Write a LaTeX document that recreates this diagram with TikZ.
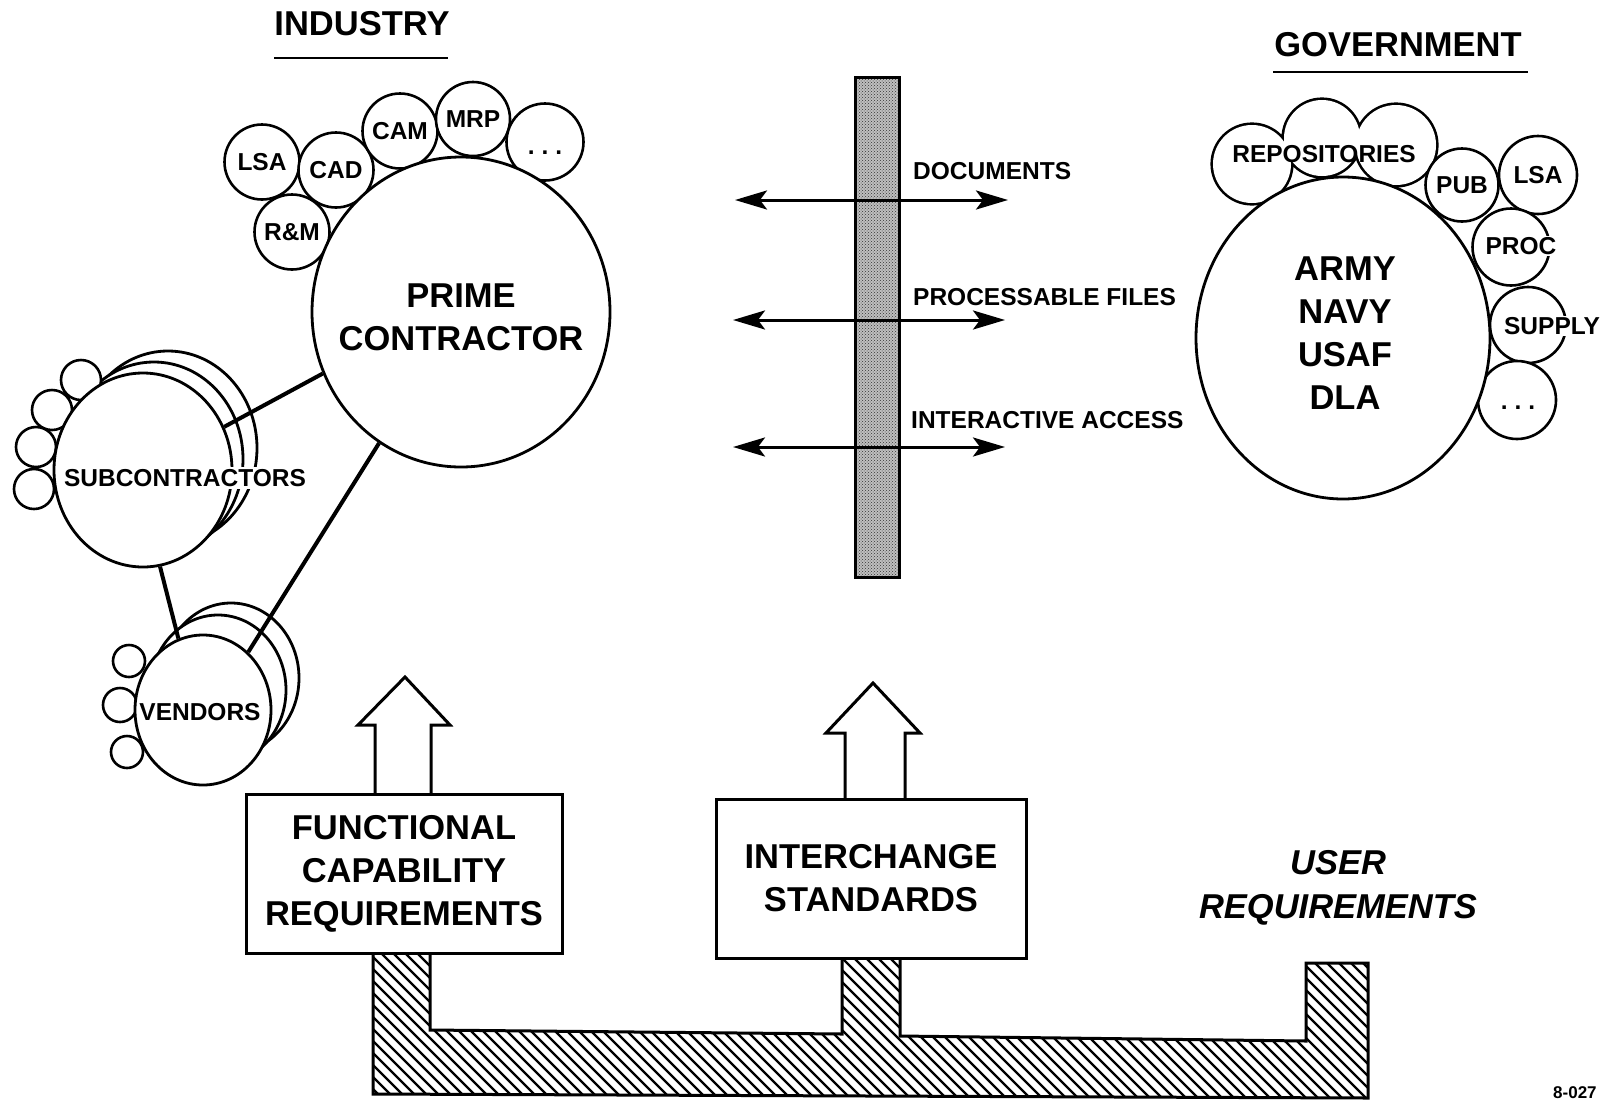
\documentclass[tikz,border=0pt]{standalone}
\usepackage{fontspec}
\setmainfont{Liberation Sans}
\usetikzlibrary{arrows.meta,patterns,shapes.geometric}
\begin{document}
\begin{tikzpicture}[x=1pt,y=-1pt,
  sc/.style={circle,draw,line width=2.6pt,fill=white,inner sep=0pt,font=\fontsize{24.5}{29}\selectfont\bfseries},
  bc/.style={ellipse,draw,line width=2.8pt,fill=white,inner sep=0pt},
  lbl/.style={inner sep=0pt,font=\fontsize{24.5}{29}\selectfont\bfseries},
  wlbl/.style={fill=white,inner sep=2pt,font=\fontsize{24.5}{29}\selectfont\bfseries},
  blbl/.style={inner sep=0pt,align=center,font=\fontsize{34.5}{43}\selectfont\bfseries},
  headlbl/.style={inner sep=0pt,font=\fontsize{34.5}{40}\selectfont\bfseries},
  conn/.style={line width=4pt},
  dbl/.style={line width=3pt,{Stealth[length=32pt,width=19pt,inset=7pt]}-{Stealth[length=32pt,width=19pt,inset=7pt]}},
  boxnode/.style={draw,line width=3pt,fill=white,inner sep=0pt,align=center,font=\fontsize{34.5}{43}\selectfont\bfseries},
  barr/.style={draw,line width=3pt,fill=white,line join=miter},
  hatchline/.style={line width=2.2pt},
]
\fill[white] (0,0) rectangle (1602,1101);
\useasboundingbox (0,0) rectangle (1602,1101);

% headings
\node[headlbl] (industry) at (362,24) {INDUSTRY};
\draw[line width=2.5pt] (274,58) -- (448,58);
\node[headlbl] (gov) at (1398,45) {GOVERNMENT};
\draw[line width=2.5pt] (1273,72) -- (1528,72);

% industry cluster
\node[sc,minimum size=75pt] (lsa) at (262,162) {LSA};
\node[sc,minimum size=75pt] (cad) at (336,170) {CAD};
\node[sc,minimum size=75pt] (rm) at (292,232) {R\&M};
\node[sc,minimum size=75pt] (cam) at (400,131) {CAM};
\node[sc,minimum size=74pt] (mrp) at (473,119) {MRP};
\node[sc,minimum size=77pt] (idots) at (545,142) {};
\node[lbl,anchor=base] (idotst) at (545,154) {.\hspace{7pt}.\hspace{7pt}.};
\node[bc,minimum width=298pt,minimum height=310pt] (prime) at (461,312) {};
\node[blbl] (primet) at (461,317.5) {PRIME\\CONTRACTOR};

% subcontractors
\node[bc,minimum width=178pt,minimum height=194pt] (subg2) at (168,448) {};
\node[bc,minimum width=178pt,minimum height=194pt] (subg1) at (154,459) {};
\node[sc,minimum size=40pt] (s1) at (81,380) {};
\node[sc,minimum size=40pt] (s2) at (52,410) {};
\node[sc,minimum size=40pt] (s3) at (36,447) {};
\node[sc,minimum size=40pt] (s4) at (34,489) {};
\node[bc,minimum width=178pt,minimum height=194pt] (subc) at (143,470) {};
\node[wlbl] (subct) at (185,478) {SUBCONTRACTORS};

% vendors
\node[bc,minimum width=136pt,minimum height=150pt] (vg2) at (231,678) {};
\node[bc,minimum width=136pt,minimum height=150pt] (vg1) at (218,690) {};
\node[sc,minimum size=32pt] (v1) at (129,661) {};
\node[sc,minimum size=34pt] (v2) at (120,705) {};
\node[sc,minimum size=32pt] (v3) at (127,752) {};
\node[bc,minimum width=136pt,minimum height=150pt] (vend) at (203,710) {};
\node[wlbl,inner sep=1pt] (vendt) at (200,712) {VENDORS};

% connectors
\draw[conn] (prime.204) -- (subc.28);
\draw[conn] (prime.238) -- (vend.52);
\draw[conn] (subc.-80) -- (vend.109);

% interface bar
\node[draw,line width=3pt,minimum width=44pt,minimum height=500pt,inner sep=0pt,
      preaction={fill=gray!50},pattern=crosshatch dots,pattern color=black!80] (bar) at (877,327) {};
\coordinate (d1) at (735,200); \coordinate (d2) at (1008,200);
\coordinate (p1) at (733,320); \coordinate (p2) at (1005,320);
\coordinate (i1) at (733,447); \coordinate (i2) at (1005,447);
\draw[dbl] (d1) -- (d2);
\draw[dbl] (p1) -- (p2);
\draw[dbl] (i1) -- (i2);
\node[lbl,anchor=west] (doct) at (913,171) {DOCUMENTS};
\node[lbl,anchor=west] (proft) at (913,297) {PROCESSABLE FILES};
\node[lbl,anchor=west] (intt) at (911,420) {INTERACTIVE ACCESS};

% government cluster
\draw[line width=5.2pt] (1252,164) circle[radius=39] (1322,138) circle[radius=38] (1396,145) circle[radius=40];
\fill[white] (1252,164) circle[radius=39] (1322,138) circle[radius=38] (1396,145) circle[radius=40];
\node[sc,minimum size=73pt] (pub) at (1462,185) {PUB};
\node[sc,minimum size=78pt] (glsa) at (1538,175) {LSA};
\node[sc,minimum size=77pt] (proc) at (1511,247) {};
\node[sc,minimum size=76pt] (sup) at (1528,325) {};
\node[sc,minimum size=78pt] (gdots) at (1517,400) {};
\node[bc,minimum width=294pt,minimum height=322pt] (mil) at (1343,338) {};
\node[lbl] (rept) at (1324,154) {REPOSITORIES};
\node[wlbl,inner sep=1.5pt] (proct) at (1521,246) {PROC};
\node[wlbl,inner sep=1.5pt] (supt) at (1552,326) {SUPPLY};
\node[lbl,anchor=base] (gdotst) at (1518,409) {.\hspace{7pt}.\hspace{7pt}.};
\node[blbl] (milt) at (1345,333.5) {ARMY\\NAVY\\USAF\\DLA};

% bottom requirements structure (hatched)
\begin{scope}
  \clip (373,953) -- (373,1094) -- (1368,1098) -- (1368,963) -- (1306,963) -- (1306,1041)
    -- (900,1036) -- (900,958) -- (842,958) -- (842,1034) -- (430,1030) -- (430,953) -- cycle;
  \foreach \xx in {200,212,...,1380} {
    \draw[hatchline] (\xx,940) -- ++(170,170);
  }
\end{scope}
\draw[line width=3pt,line join=miter] (373,953) -- (373,1094) -- (1368,1098) -- (1368,963) -- (1306,963) -- (1306,1041)
  -- (900,1036) -- (900,958) -- (842,958) -- (842,1034) -- (430,1030) -- (430,953) -- cycle;
\draw[barr] (375,796) -- (375,725) -- (358,725) -- (405,677) -- (450,725) -- (431,725) -- (431,796);
\draw[barr] (845,801) -- (845,733) -- (826,733) -- (873,683) -- (920,733) -- (905,733) -- (905,801);
\node[boxnode,minimum width=316pt,minimum height=159pt] (fbox) at (404,873.5) {FUNCTIONAL\\CAPABILITY\\REQUIREMENTS};
\node[boxnode,minimum width=310pt,minimum height=159pt] (ibox) at (871,878.5) {INTERCHANGE\\STANDARDS};
\node[inner sep=0pt,align=center,font=\fontsize{34.5}{44}\selectfont\bfseries\itshape] (usert) at (1338,888) {USER\\REQUIREMENTS};
\node[inner sep=0pt,anchor=south west,font=\fontsize{17}{20}\selectfont\bfseries] (figno) at (1553,1099) {8-027};
\end{tikzpicture}
\end{document}
